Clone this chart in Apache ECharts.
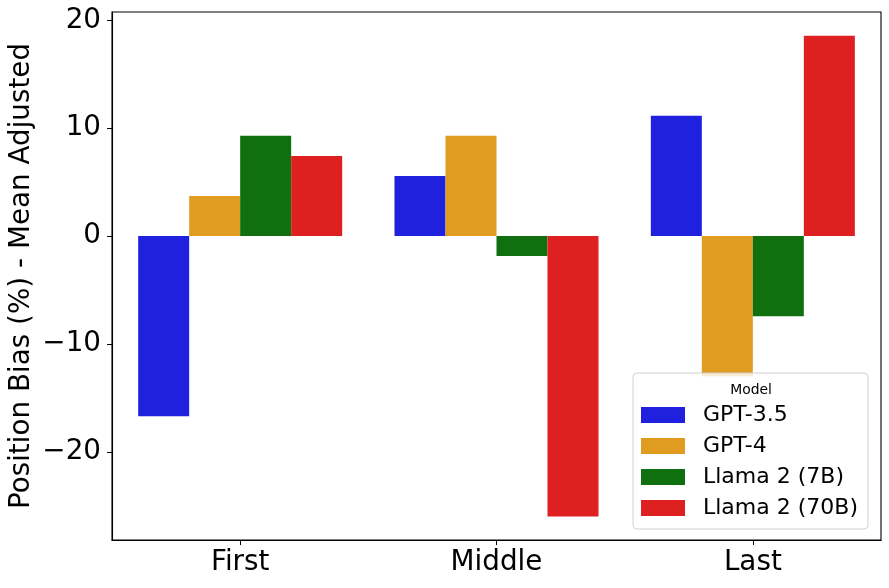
<!DOCTYPE html>
<html lang="en">
<head>
    <meta charset="UTF-8">
    <title>Position Bias</title>
    <script src="https://cdn.jsdelivr.net/npm/echarts@6.0.0/dist/echarts.min.js"></script>
    <style>
        html, body { margin: 0; padding: 0; background: #fff; }
    </style>
</head>
<body>
<div id="chartmain" style="width:889px; height:588px;"></div>
<script type="text/javascript">
    // data
    var categories = ['First', 'Middle', 'Last'];
    var models = ['GPT-3.5', 'GPT-4', 'Llama 2 (7B)', 'Llama 2 (70B)'];
    var gpt35 = [-16.71, 5.57, 11.14];
    var gpt4 = [3.71, 9.29, -13.0];
    var llama7b = [9.29, -1.86, -7.43];
    var llama70b = [7.43, -26.0, 18.57];
    var yTicks = [-20, -10, 0, 10, 20];
    var yTitle = 'Position Bias (%) - Mean Adjusted';

    var colors = ['#2020df', '#df9c20', '#107010', '#df2020'];
    var values = [gpt35, gpt4, llama7b, llama70b];
    var font = 'DejaVu Sans';

    var myChart = echarts.init(document.getElementById('chartmain'));

    var series = models.map(function (name, i) {
        return {
            name: name,
            type: 'bar',
            data: values[i],
            barWidth: 51,
            barGap: '0%',
            itemStyle: { color: colors[i] },
            emphasis: { disabled: true }
        };
    });

    myChart.setOption({
        animation: false,
        textStyle: { fontFamily: font },
        grid: {
            left: 112, right: 8, top: 12, bottom: 48,
            outerBoundsMode: 'none',
            containLabel: false,
            show: true, borderColor: '#000', borderWidth: 1.1
        },
        legend: {
            data: models,
            orient: 'vertical',
            left: 633,
            top: 373,
            z: 10,
            padding: [31, 10, 10, 8],
            itemWidth: 44,
            itemHeight: 16,
            itemGap: 9,
            icon: 'rect',
            backgroundColor: 'rgba(255,255,255,0.8)',
            borderColor: '#d0d0d0',
            borderWidth: 1,
            borderRadius: 4,
            textStyle: {
                fontFamily: font, fontSize: 22, lineHeight: 22,
                color: '#000', padding: [0, 0, 0, 13]
            }
        },
        graphic: [{
            type: 'text',
            z: 100,
            style: {
                x: 751, y: 390,
                text: 'Model',
                align: 'center',
                verticalAlign: 'middle',
                fontFamily: font,
                fontSize: 13.9,
                fill: '#000'
            }
        }, {
            // y axis title, placed by hand
            type: 'text',
            x: 22,
            y: 276,
            rotation: Math.PI / 2,
            style: {
                text: yTitle,
                align: 'center',
                verticalAlign: 'middle',
                fontFamily: font,
                fontSize: 27.8,
                fill: '#000'
            }
        }],
        xAxis: {
            type: 'category',
            data: categories,
            axisLine: { show: true, onZero: false, lineStyle: { color: '#000', width: 1.1 } },
            axisTick: { show: true, alignWithLabel: true, length: 5, lineStyle: { color: '#000' } },
            axisLabel: { color: '#000', fontSize: 27.8, margin: 9, fontFamily: font },
            splitLine: { show: false }
        },
        yAxis: {
            type: 'value',
            min: -28.18,
            max: 20.77,
            axisLine: { show: true, lineStyle: { color: '#000', width: 1.1 } },
            axisTick: { show: true, length: 5, customValues: yTicks, lineStyle: { color: '#000' } },
            axisLabel: {
                color: '#000', fontSize: 27.8, margin: 11, fontFamily: font,
                customValues: yTicks,
                formatter: function (v) { return v < 0 ? '\u2212' + Math.abs(v) : String(v); }
            },
            splitLine: { show: false }
        },
        series: series
    });
</script>
</body>
</html>
